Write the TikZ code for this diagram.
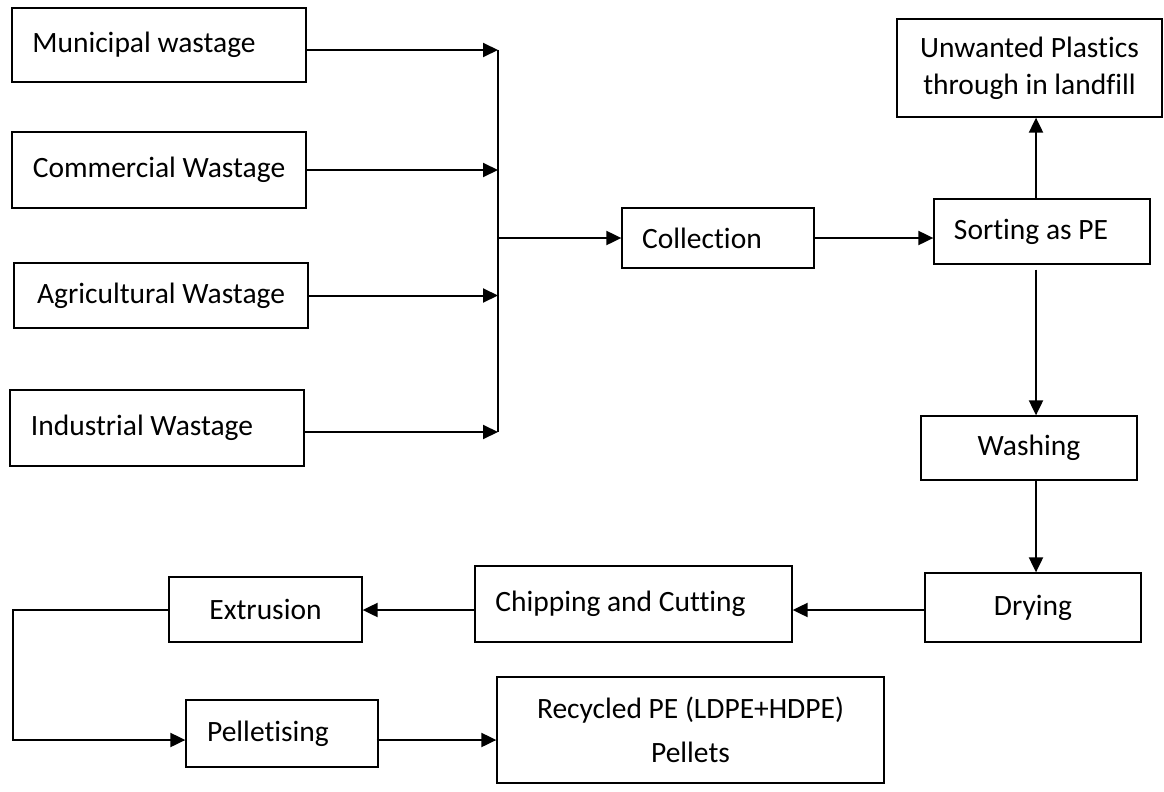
\documentclass[tikz,border=0pt]{standalone}
\usepackage{fontspec}
\setmainfont{Carlito}[Ligatures=NoCommon]
\usetikzlibrary{arrows.meta, positioning}

\tikzset{
  stage/.style={draw, line width=1.3pt, inner sep=2pt, font=\fontsize{29.5}{37}\selectfont},
  flow/.style={line width=2pt, -{Triangle[length=15pt, width=14pt]}},
  pad/.style={execute at end node={\hspace*{#1}}},
}

\begin{document}
\begin{tikzpicture}[x=1pt, y=-1pt]
  \useasboundingbox (0,0) rectangle (1164,792);

  % Sources of waste
  \node[stage, pad=30pt, minimum width=294pt, minimum height=74pt] (municipal) at (159,45) {Municipal wastage};
  \node[stage, minimum width=294pt, minimum height=76pt] (commercial) at (159,170) {Commercial Wastage};
  \node[stage, minimum width=294pt, minimum height=65pt] (agricultural) at (161,295.5) {Agricultural Wastage};
  \node[stage, pad=30pt, minimum width=294pt, minimum height=76pt] (industrial) at (157,428) {Industrial Wastage};

  % Collection and sorting
  \node[stage, pad=32pt, minimum width=192pt, minimum height=60pt] (collection) at (718,238) {Collection};
  \node[stage, pad=22pt, minimum width=216pt, minimum height=65pt] (sorting) at (1042,231.5) {Sorting as PE};
  \node[stage, align=center, minimum width=265pt, minimum height=98pt] (landfill) at (1029.5,68) {Unwanted Plastics\\through in landfill};

  % Processing line
  \node[stage, minimum width=216pt, minimum height=64pt] (washing) at (1029,448) {Washing};
  \node[stage, minimum width=216pt, minimum height=69pt] (drying) at (1033,607.5) {Drying};
  \node[stage, pad=26pt, minimum width=317pt, minimum height=76pt] (chipping) at (633.5,604) {Chipping and Cutting};
  \node[stage, minimum width=193pt, minimum height=65pt] (extrusion) at (265.5,609.5) {Extrusion};
  \node[stage, pad=28pt, minimum width=192pt, minimum height=67pt] (pelletising) at (282,733.5) {Pelletising};
  \node[stage, align=center, font=\fontsize{29.5}{44}\selectfont, minimum width=387pt, minimum height=106pt] (recycled) at (690.5,730) {Recycled PE (LDPE+HDPE)\\Pellets};

  % Collecting bus
  \coordinate (bustop) at (498,50);
  \coordinate (busmid) at (498,238);
  \coordinate (busbot) at (498,432);
  \draw[line width=2pt] (bustop) -- (busbot);

  \draw[flow] ([yshift=-5pt]municipal.east) -- (bustop);
  \draw[flow] (commercial.east) -- (commercial.east -| busmid);
  \draw[flow] (agricultural.east) -- (agricultural.east -| busmid);
  \draw[flow] ([yshift=-4pt]industrial.east) -- (busbot);
  \draw[flow] (busmid) -- (collection.west);
  \draw[flow] (collection.east) -- (collection.east -| sorting.west);

  % Sorting outputs
  \draw[flow] ([xshift=-6pt]sorting.north) -- ([xshift=-6pt]sorting.north |- landfill.south);
  \draw[flow] ([xshift=-6pt, yshift=-5pt]sorting.south) -- ([xshift=-6pt]sorting.south |- washing.north);
  \draw[flow] ([xshift=7pt]washing.south) -- ([xshift=7pt]washing.south |- drying.north);
  \draw[flow] ([yshift=-2.5pt]drying.west) -- ([yshift=-2.5pt]drying.west -| chipping.east);
  \draw[flow] ([yshift=-6pt]chipping.west) -- ([yshift=-6pt]chipping.west -| extrusion.east);

  % Back round to pelletising
  \coordinate (bend) at (13,740);
  \draw[flow] (extrusion.west) -- (extrusion.west -| bend) -- (bend) -- ([yshift=-6.5pt]pelletising.west);
  \draw[flow] ([xshift=-2pt, yshift=-6.5pt]pelletising.east) -- ([yshift=-6.5pt]pelletising.east -| recycled.west);
\end{tikzpicture}
\end{document}
